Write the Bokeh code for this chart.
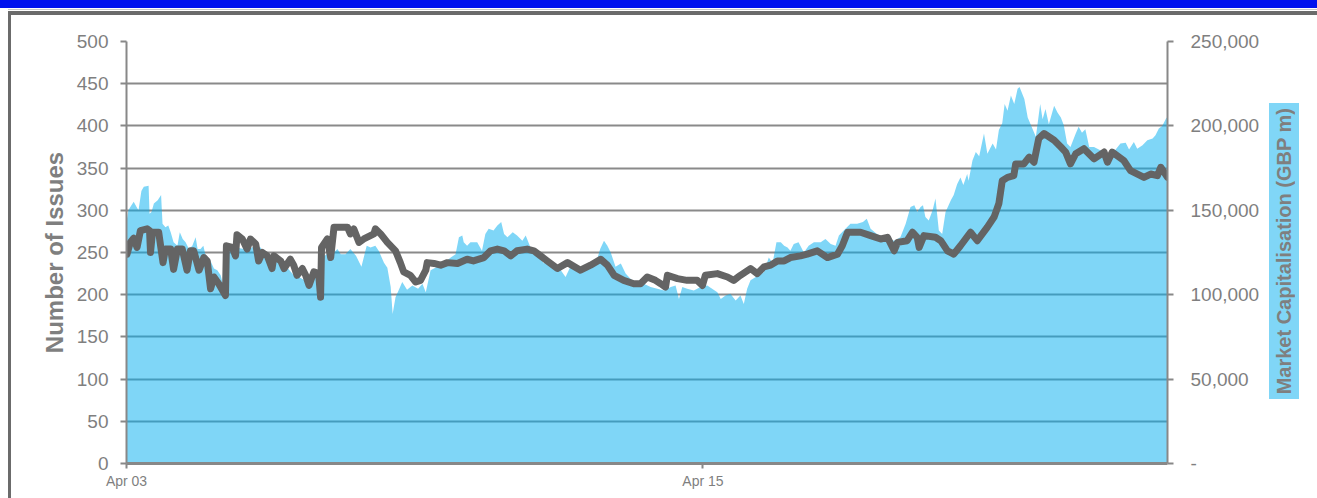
from bokeh.plotting import figure
from bokeh.layouts import column, row
from bokeh.models import (Range1d, LinearAxis, FixedTicker, NumeralTickFormatter, Div)
from bokeh.embed import file_html
from bokeh.resources import INLINE

# ---------------- data ----------------
# x positions are days since Apr 03 00:00
x_tick_days = [0, 12]
x_tick_labels = ["Apr 03", "Apr 15"]

left_ticks = [0, 50, 100, 150, 200, 250, 300, 350, 400, 450, 500]
right_ticks = [0, 50000, 100000, 150000, 200000, 250000]

# Number of issues (left axis, dark line)
issues_day = [
    0.01, 0.08, 0.15, 0.22, 0.29, 0.43, 0.48, 0.50, 0.54, 0.67,
    0.76, 0.81, 0.92, 0.98, 1.06, 1.16, 1.26, 1.33, 1.40, 1.51,
    1.61, 1.68, 1.75, 1.82, 1.92, 2.06, 2.08, 2.20, 2.27, 2.30,
    2.41, 2.51, 2.58, 2.69, 2.75, 2.83, 2.93, 3.03, 3.07, 3.21,
    3.28, 3.41, 3.48, 3.55, 3.66, 3.73, 3.80, 3.90, 4.00, 4.04,
    4.06, 4.18, 4.25, 4.32, 4.60, 4.66, 4.73, 4.84, 4.94, 5.15,
    5.18, 5.29, 5.43, 5.60, 5.70, 5.77, 5.91, 6.02, 6.12, 6.23,
    6.26, 6.40, 6.54, 6.68, 6.89, 7.09, 7.22, 7.44, 7.58, 7.72,
    7.86, 8.00, 8.13, 8.34, 8.48, 8.62, 8.76, 8.97, 9.18, 9.45,
    9.66, 9.87, 10.01, 10.15, 10.35, 10.56, 10.70, 10.84, 11.01, 11.12,
    11.22, 11.26, 11.47, 11.67, 11.88, 11.99, 12.05, 12.30, 12.51, 12.64,
    12.78, 12.99, 13.13, 13.27, 13.41, 13.55, 13.69, 13.82, 14.03, 14.17,
    14.38, 14.59, 14.80, 14.90, 15.01, 15.28, 15.49, 15.70, 15.84, 15.98,
    16.05, 16.25, 16.36, 16.46, 16.50, 16.60, 16.84, 16.95, 17.09, 17.22,
    17.36, 17.57, 17.71, 17.92, 18.06, 18.16, 18.23, 18.34, 18.47, 18.51,
    18.68, 18.79, 18.89, 18.99, 19.10, 19.31, 19.45, 19.55, 19.65, 19.76,
    19.93, 20.14, 20.35, 20.42, 20.52, 20.76, 20.90, 21.18, 21.32, 21.46,
    21.53, 21.67,
]
issues_count = [
    248, 262, 267, 256, 276, 278, 276, 250, 274, 274,
    238, 254, 254, 230, 254, 254, 229, 252, 252, 229,
    244, 240, 207, 221, 213, 199, 258, 256, 246, 271,
    266, 254, 266, 260, 240, 250, 246, 231, 246, 240,
    231, 242, 235, 223, 231, 223, 211, 227, 225, 197,
    256, 266, 244, 280, 280, 272, 278, 262, 266, 272,
    278, 272, 262, 252, 238, 227, 223, 215, 217, 229,
    238, 237, 235, 238, 237, 242, 240, 244, 252, 254,
    252, 246, 252, 254, 252, 246, 240, 231, 238, 229,
    235, 242, 235, 223, 217, 213, 213, 221, 217, 213,
    209, 223, 219, 217, 217, 211, 223, 225, 221, 217,
    223, 231, 225, 233, 235, 240, 240, 244, 246, 248,
    252, 244, 248, 258, 274, 274, 270, 266, 268, 252,
    262, 264, 274, 268, 256, 270, 268, 264, 252, 248,
    258, 274, 264, 280, 292, 308, 335, 339, 341, 355,
    355, 363, 357, 385, 391, 383, 375, 369, 355, 367,
    373, 361, 369, 357, 369, 359, 347, 339, 343, 341,
    351, 339,
]

# Market capitalisation, GBP m (right axis, area)
cap_day = [
    0.00, 0.04, 0.08, 0.15, 0.21, 0.25, 0.31, 0.36, 0.46, 0.48,
    0.52, 0.57, 0.65, 0.72, 0.75, 0.81, 0.87, 0.92, 0.98, 1.06,
    1.11, 1.17, 1.23, 1.30, 1.37, 1.44, 1.48, 1.54, 1.60, 1.64,
    1.69, 1.75, 1.82, 1.89, 1.96, 2.03, 2.08, 2.17, 2.29, 2.44,
    2.58, 2.69, 2.79, 2.93, 3.06, 3.21, 3.35, 3.48, 3.62, 3.76,
    3.90, 4.00, 4.10, 4.21, 4.32, 4.39, 4.46, 4.56, 4.66, 4.78,
    4.89, 5.00, 5.08, 5.18, 5.25, 5.36, 5.43, 5.50, 5.54, 5.60,
    5.67, 5.74, 5.84, 5.95, 6.07, 6.16, 6.23, 6.33, 6.47, 6.61,
    6.75, 6.85, 6.92, 6.99, 7.02, 7.09, 7.16, 7.30, 7.40, 7.47,
    7.54, 7.64, 7.72, 7.80, 7.86, 7.93, 8.04, 8.13, 8.24, 8.31,
    8.41, 8.55, 8.69, 8.76, 8.90, 9.04, 9.14, 9.24, 9.38, 9.52,
    9.66, 9.77, 9.86, 9.94, 10.01, 10.08, 10.18, 10.29, 10.39, 10.49,
    10.63, 10.77, 10.91, 11.05, 11.19, 11.33, 11.43, 11.50, 11.57, 11.67,
    11.81, 11.95, 12.09, 12.19, 12.30, 12.37, 12.47, 12.57, 12.68, 12.78,
    12.85, 12.92, 12.99, 13.10, 13.20, 13.27, 13.37, 13.45, 13.53, 13.62,
    13.69, 13.76, 13.82, 13.89, 13.99, 14.10, 14.20, 14.31, 14.45, 14.55,
    14.66, 14.76, 14.83, 14.93, 15.07, 15.21, 15.33, 15.41, 15.49, 15.62,
    15.76, 15.98, 16.11, 16.22, 16.32, 16.40, 16.46, 16.53, 16.58, 16.63,
    16.70, 16.78, 16.84, 16.91, 16.98, 17.05, 17.16, 17.22, 17.29, 17.36,
    17.42, 17.50, 17.53, 17.61, 17.68, 17.75, 17.85, 17.92, 18.03, 18.10,
    18.16, 18.23, 18.28, 18.34, 18.41, 18.48, 18.55, 18.59, 18.69, 18.76,
    18.87, 18.93, 19.02, 19.07, 19.13, 19.20, 19.31, 19.38, 19.45, 19.51,
    19.58, 19.65, 19.76, 19.82, 19.89, 19.96, 20.04, 20.14, 20.28, 20.41,
    20.55, 20.69, 20.80, 20.87, 20.97, 21.04, 21.15, 21.25, 21.36, 21.42,
    21.49, 21.56, 21.65, 21.67,
]
cap_gbp_m = [
    143000, 150000, 152000, 155000, 152000, 150000, 161500, 164000, 164500, 148000,
    149000, 154000, 156000, 159000, 142000, 140000, 141000, 137000, 131000, 129000,
    137000, 133000, 131000, 127000, 129000, 134000, 127000, 127000, 129000, 124000,
    122000, 120000, 115500, 114500, 111500, 103500, 125000, 126000, 128000, 127000,
    127500, 129000, 128000, 123000, 122000, 120000, 116000, 111500, 110000, 107500,
    113000, 112000, 122500, 125000, 125000, 127000, 124000, 124000, 127000, 123000,
    116500, 129000, 128000, 129000, 126000, 119000, 116000, 104500, 88500, 98500,
    103000, 107500, 103000, 105500, 103500, 106500, 101500, 114500, 116500, 119000,
    122000, 124000, 134000, 135000, 131000, 129000, 131000, 131000, 126000, 136000,
    139000, 138000, 141000, 143000, 136000, 134000, 137000, 135000, 132000, 135000,
    128000, 124000, 118500, 122000, 118500, 114500, 110500, 116500, 115500, 113500,
    118500, 118500, 127000, 132000, 129000, 125000, 116500, 118500, 112500, 109500,
    106500, 106500, 104500, 103500, 102500, 104500, 105500, 97500, 104500, 103500,
    102500, 104500, 105500, 103500, 101500, 97500, 99500, 100500, 96500, 99500,
    94500, 103500, 108500, 110500, 112000, 113500, 122000, 119000, 131000, 131000,
    129000, 128000, 126000, 130000, 131000, 125000, 129000, 131000, 131000, 133000,
    130000, 129000, 135000, 138000, 142000, 142000, 143000, 145000, 139000, 136000,
    134000, 132000, 134000, 142000, 152000, 153000, 149000, 152000, 153000, 146000,
    144000, 150000, 157000, 138000, 136000, 149000, 156000, 159000, 165500, 169500,
    165000, 171500, 167500, 179500, 184500, 182000, 195500, 183500, 189500, 186000,
    197500, 201500, 213000, 209000, 218000, 213000, 222000, 223000, 216000, 205000,
    197500, 193500, 213000, 204000, 210000, 201000, 212000, 208000, 205000, 200500,
    189500, 187500, 195500, 199500, 196000, 198000, 187500, 187500, 185500, 183500,
    184500, 189500, 190000, 186000, 190500, 186500, 188500, 191500, 192500, 194500,
    198500, 200000, 205000, 204000,
]

# ---------------- figure ----------------
GRAY_TXT = "#7f7f7f"
FONT = "Liberation Sans"

p = figure(width=1254, height=483, output_backend="svg", toolbar_location=None,
           x_range=Range1d(0, 21.67), y_range=Range1d(0, 500),
           min_border_left=115, min_border_right=98,
           min_border_top=26, min_border_bottom=35, margin=0)
p.outline_line_color = None
p.background_fill_color = "white"
p.border_fill_color = "white"
p.extra_y_ranges = {"cap": Range1d(0, 250000)}

# grid
p.xgrid.visible = False
p.ygrid.ticker = FixedTicker(ticks=left_ticks)
p.ygrid.grid_line_color = "#8a8a8a"
p.ygrid.grid_line_width = 2

# left axis
la = p.yaxis[0]
la.ticker = FixedTicker(ticks=left_ticks)
la.axis_line_color = "#888888"
la.axis_line_width = 2
la.major_tick_line_color = "#888888"
la.major_tick_line_width = 2
la.major_tick_out = 6
la.major_tick_in = 0
la.minor_tick_line_color = None
la.major_label_standoff = 12
la.major_label_text_font = FONT
la.major_label_text_font_size = "19px"
la.major_label_text_color = GRAY_TXT
la.axis_label = "Number of Issues"
la.axis_label_text_font = FONT
la.axis_label_text_font_style = "bold"
la.axis_label_text_font_size = "24px"
la.axis_label_text_color = GRAY_TXT
la.axis_label_standoff = 6

# bottom axis
xa = p.xaxis[0]
xa.ticker = FixedTicker(ticks=x_tick_days)
xa.major_label_overrides = {t: s for t, s in zip(x_tick_days, x_tick_labels)}
xa.axis_line_color = "#888888"
xa.axis_line_width = 3
xa.major_tick_line_color = "#888888"
xa.major_tick_line_width = 2
xa.major_tick_out = 5
xa.major_tick_in = 0
xa.minor_tick_line_color = None
xa.major_label_standoff = 4
xa.major_label_text_font = FONT
xa.major_label_text_font_size = "14px"
xa.major_label_text_color = GRAY_TXT

# right axis
ra = LinearAxis(y_range_name="cap", ticker=FixedTicker(ticks=right_ticks),
                formatter=NumeralTickFormatter(format="0,0"))
ra.major_label_overrides = {0: "-"}
ra.axis_line_color = "#888888"
ra.axis_line_width = 2
ra.major_tick_line_color = "#888888"
ra.major_tick_line_width = 2
ra.major_tick_out = 6
ra.major_tick_in = 0
ra.minor_tick_line_color = None
ra.major_label_standoff = 17
ra.major_label_text_font = FONT
ra.major_label_text_font_size = "19px"
ra.major_label_text_color = GRAY_TXT
p.add_layout(ra, "right")

# series
p.varea(x=cap_day, y1=0, y2=cap_gbp_m, y_range_name="cap",
        fill_color="#00adef", fill_alpha=0.5)
p.line(issues_day, issues_count, line_color="#646464", line_width=7,
       line_join="round", line_cap="round")

# page decoration: blue band and grey frame, right-axis title on a blue box
top_band = Div(width=1317, height=15, margin=0, text=(
    '<div style="width:1317px;height:8px;background:#0012ee"></div>'
    '<div style="width:1317px;height:1px;background:#ffffff"></div>'
    '<div style="margin-left:8px;width:1309px;height:1px;background:#c8c8c8"></div>'
    '<div style="width:1317px;height:1px;background:#ffffff"></div>'
    '<div style="margin-left:8px;width:1309px;height:4px;background:#6b6b6b"></div>'
))
left_bar = Div(width=11, height=483, margin=0, text=(
    '<div style="margin-left:8px;width:3px;height:483px;background:#6b6b6b"></div>'
))
right_title = Div(width=52, height=483, margin=0, text=(
    '<div style="margin-left:4px;margin-top:88px;width:30px;height:296px;'
    'background:#80d6f7;display:flex;align-items:center;justify-content:center;">'
    '<span style="writing-mode:vertical-rl;transform:rotate(180deg);'
    "font-family:'Liberation Sans',Arial,sans-serif;font-weight:bold;font-size:20px;"
    'color:#7f7f7f;white-space:nowrap;line-height:30px;">'
    'Market Capitalisation (GBP m)</span></div>'
))

layout = column(top_band, row(left_bar, p, right_title, spacing=0, margin=0),
                spacing=0, margin=0)

open("out.html", "w").write(file_html(layout, INLINE))
